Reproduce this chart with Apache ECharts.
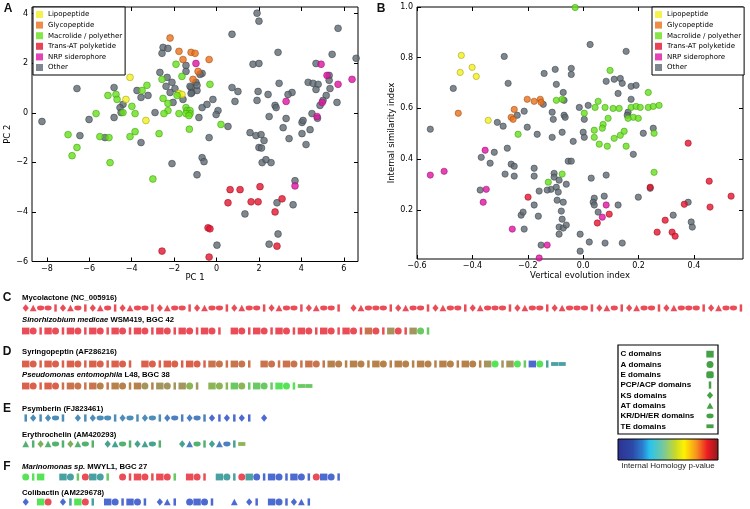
<!DOCTYPE html>
<html><head><meta charset="utf-8">
<script src="https://cdn.jsdelivr.net/npm/echarts@6/dist/echarts.min.js"></script>
<style>html,body{margin:0;padding:0;background:#fff}#c{width:750px;height:509px}</style>
</head><body><div id="c"></div>
<script>
// ---------- DATA ----------
const categories = ['Lipopeptide','Glycopeptide','Macrolide / polyether','Trans-AT polyketide','NRP siderophore','Other'];
const catColors  = ['#f2f01e','#e8701a','#66e01a','#e4142e','#de14a2','#5f6972'];
const catBorders = ['#a09c18','#a04c12','#3e9a10','#9e0c20','#98106e','#3a4046'];

// Panel A: [PC 1, PC 2]
const pcaLipopeptide = [[-4.08,1.43],[-1.77,0.78],[-1.63,0.74],[-4.27,0.54],[-3.33,-0.31]];
const pcaGlycopeptide = [[-2.19,3.02],[-1.77,2.48],[-1.20,2.44],[-1.01,2.40],[-1.58,2.15],[-0.87,1.67],[-1.11,1.35],[-0.35,2.15]];
const pcaMacrolide = [[-1.91,1.96],[-1.63,1.47],[-2.57,1.35],[-3.28,1.11],[-3.51,0.90],[-1.86,0.70],[-5.12,0.70],[-4.74,0.74],[-4.69,0.54],[-2.52,0.58],[-3.99,0.26],[-2.29,0.38],[-1.44,0.21],[-2.29,0.09],[-4.41,0.01],[-5.68,-0.03],[-3.84,-0.03],[-2.48,-0.03],[-1.77,-0.03],[-1.39,0.09],[-1.25,0.09],[-1.25,-0.03],[-1.44,-0.03],[-1.30,-0.11],[-7.0,-0.88],[-5.50,-0.96],[-5.07,-1.0],[-4.08,-0.96],[-3.84,-0.76],[-2.71,-0.84],[-1.28,-0.66],[-6.58,-1.40],[-6.81,-1.73],[-5.02,-2.01],[-3.0,-2.67],[-0.31,1.15],[0.21,-0.47]];
const pcaTransAT = [[-2.57,-5.58],[0.64,-3.10],[1.11,-3.10],[2.05,-2.98],[0.54,-3.63],[1.63,-3.59],[1.96,-3.59],[3.09,-3.47],[2.76,-4.0],[-0.40,-4.64],[-0.31,-4.68],[2.85,-5.38],[-0.35,-5.82]];
const pcaSiderophore = [[-0.97,1.99],[4.93,1.96],[5.21,1.51],[5.73,1.15],[6.39,1.35],[3.28,0.46],[4.98,0.42],[4.74,-0.15],[3.70,-2.95]];
const pcaOther = [[-2.52,2.64],[-2.29,2.60],[-2.57,2.40],[-2.67,1.63],[-2.33,1.43],[-0.97,1.23],[-6.58,0.98],[-4.83,1.02],[-3.75,0.90],[-2.10,1.23],[-2.38,1.07],[-1.96,0.98],[-1.20,1.02],[-2.19,0.82],[-3.56,0.62],[-3.23,0.70],[-1.16,0.82],[-0.92,0.90],[-4.41,0.34],[-4.55,0.21],[-2.05,0.42],[-1.58,0.54],[-4.50,0.01],[-6.01,-0.27],[-4.83,-0.19],[-2.90,0.01],[-8.23,-0.35],[-0.83,-0.19],[-6.44,-0.92],[-5.26,-1.0],[-3.56,-1.20],[-2.10,-2.05],[-0.92,-2.50],[-0.68,-1.81],[-0.59,-1.97],
 [1.91,4.02],[2.0,3.70],[0.73,3.17],[5.73,3.41],[2.90,2.44],[5.45,2.36],[6.58,2.20],[-1.44,1.91],[1.72,1.96],[2.0,1.99],[4.69,1.99],[-1.44,1.67],[-0.68,1.59],[-0.78,1.55],[-1.25,1.07],[-0.92,1.11],[5.31,1.51],[5.31,1.31],[2.95,1.19],[4.32,1.23],[4.55,1.19],[4.79,1.15],[4.69,0.94],[5.35,0.98],[5.17,0.70],[5.02,0.50],[3.56,0.82],[3.37,0.74],[1.96,0.86],[2.43,0.74],[0.73,1.02],[1.01,0.86],[-1.20,0.78],[-0.17,0.54],[0.87,0.46],[1.91,0.50],[5.68,0.42],[4.88,0.30],[-0.68,0.21],[-0.45,0.34],[0.07,0.09],[-0.02,-0.07],[2.76,0.30],[2.81,0.21],[2.48,-0.15],[3.28,-0.23],[4.50,-0.03],[4.76,-0.22],[4.03,-0.39],[4.08,-0.31],[0.54,-0.55],[3.14,-0.60],[4.41,-0.68],[-0.35,-1.0],[1.58,-0.80],[1.86,-0.92],[2.10,-0.88],[3.42,-1.04],[4.03,-0.84],
 [2.24,-1.12],[2.0,-1.40],[2.12,-1.42],[4.22,-1.28],[2.15,-2.01],[2.33,-1.89],[2.57,-2.01],[3.70,-2.74],[2.85,-3.63],[3.61,-3.71],[1.34,-4.08],[2.90,-4.89],[0.02,-5.34],[2.48,-5.30]];
const pcaLabels = [{name:'syringopeptin',value:[-8.18,-0.55]},{name:'erythrochelin',value:[-0.87,1.91]},{name:'colibactin',value:[3.84,-3.02]},{name:'psymberin',value:[2.85,-4.12]}];

// Panel B: [vertical evolution index, internal similarity index]
const simLipopeptide = [[-0.440,0.809],[-0.444,0.742],[-0.401,0.762],[-0.386,0.726],[-0.343,0.553]];
const simGlycopeptide = [[-0.451,0.581],[-0.202,0.636],[-0.177,0.628],[-0.155,0.636],[-0.152,0.624],[-0.249,0.596],[-0.260,0.565],[-0.253,0.557]];
const simMacrolide = [[-0.029,0.998],[-0.097,0.632],[-0.076,0.636],[-0.235,0.498],[0.097,0.750],[0.235,0.663],[0.054,0.628],[0.043,0.604],[0.079,0.604],[0.108,0.600],[0.130,0.600],[0.173,0.604],[0.191,0.608],[0.206,0.604],[0.235,0.604],[0.253,0.608],[0.274,0.612],[0.181,0.565],[0.162,0.561],[0.199,0.561],[0.090,0.561],[0.004,0.581],[0.072,0.537],[0.069,0.522],[0.040,0.514],[0.040,0.486],[0.112,0.482],[0.134,0.494],[0.148,0.510],[0.256,0.502],[0.058,0.459],[0.087,0.451],[0.155,0.451],[0.256,0.348],[-0.076,0.341],[-0.126,0.309]];
const simTransAT = [[0.379,0.463],[0.094,0.183],[0.051,0.148],[0.242,0.289],[0.455,0.313],[0.534,0.254],[0.365,0.222],[0.458,0.211],[0.296,0.159],[0.267,0.112],[0.321,0.112],[0.332,0.096],[-0.199,0.250]];
const simSiderophore = [[0.083,0.219],[0.069,0.171],[-0.354,0.435],[-0.552,0.337],[-0.502,0.352],[-0.350,0.281],[-0.361,0.230],[-0.256,0.124],[-0.130,0.061],[-0.159,0.010]];
const simOther = [[-0.285,0.805],[-0.469,0.679],[-0.271,0.699],[-0.141,0.738],[-0.144,0.616],[-0.238,0.573],[-0.213,0.589],[-0.310,0.545],[-0.289,0.530],[-0.552,0.518],[-0.202,0.526],[-0.166,0.498],
 [-0.101,0.754],[-0.043,0.758],[-0.043,0.734],[-0.097,0.695],[-0.072,0.663],[-0.069,0.632],[-0.112,0.585],[-0.069,0.573],[-0.065,0.565],[-0.108,0.557],[-0.112,0.486],[-0.076,0.506],
 [0.025,0.852],[0.155,0.825],[0.083,0.707],[0.112,0.715],[0.134,0.718],[0.141,0.699],[0.126,0.659],[0.173,0.687],[0.191,0.691],[0.173,0.636],[-0.014,0.604],[0.018,0.612],[0.004,0.557],[0.217,0.502],[0.253,0.522],[0.0,0.506],[0.004,0.486],[0.162,0.585],[0.159,0.573],
 [-0.036,0.470],[0.181,0.419],[-0.054,0.392],[-0.043,0.392],[0.029,0.325],[0.083,0.337],[0.076,0.254],[0.040,0.246],[0.036,0.230],[0.040,0.219],[0.054,0.191],[0.126,0.219],[0.199,0.250],[0.242,0.285],[0.379,0.230],[0.325,0.179],[0.390,0.152],[0.394,0.132],[-0.011,0.104],[0.022,0.073],[0.079,0.069],[0.141,0.069],[-0.011,0.037],
 [-0.105,0.344],[-0.105,0.329],[-0.087,0.317],[-0.061,0.301],[-0.116,0.281],[-0.097,0.289],[-0.090,0.270],[-0.094,0.238],[-0.072,0.230],[-0.079,0.195],[-0.076,0.163],[-0.087,0.132],[-0.072,0.128],[-0.061,0.140],[-0.087,0.104],
 [-0.368,0.407],[-0.321,0.427],[-0.274,0.443],[-0.336,0.384],[-0.260,0.380],[-0.249,0.372],[-0.282,0.341],[-0.249,0.333],[-0.177,0.364],[-0.177,0.333],[-0.372,0.278],[-0.159,0.274],[-0.130,0.278],[-0.177,0.219],[-0.224,0.179],[-0.217,0.191],[-0.162,0.175],[-0.213,0.124],[-0.152,0.061]];
const simLabels = [{name:'mycolactone',value:[-0.022,0.978]},{name:'syringopeptin',value:[0.029,0.864]},{name:'enduracidin',value:[-0.433,0.821]},{name:'tautomycetin',value:[0.206,0.703]},{name:'thuggacin',value:[-0.094,0.656]},{name:'erythrochelin',value:[-0.552,0.313]},{name:'colibactin',value:[0.072,0.156]},{name:'psymberin',value:[0.343,0.081]}];

const pcaTicksX = [-8,-6,-4,-2,0,2,4,6];
const pcaTicksY = [-6,-4,-2,0,2,4];
const simTicksX = [-0.6,-0.4,-0.2,0.0,0.2,0.4];
const simTicksY = [0.2,0.4,0.6,0.8,1.0];

// Domain architectures (C: C domain, A: A domain, E: E domain, P: PCP/ACP, D: KS, T: AT, K: KR/DH/ER, X: TE, space: gap)
const rowTitles = ['Mycolactone (NC_005916)','{i|Sinorhizobium medicae} WSM419, BGC 42','Syringopeptin (AF286216)','{i|Pseudomonas entomophila} L48, BGC 38','Psymberin (FJ823461)','Erythrochelin (AM420293)','{i|Marinomonas sp.} MWYL1, BGC 27','Colibactin (AM229678)'];
const rowGlyphs = [
 'DTKKPDTKPDTKPDTKKPDTKKPDTKKPDTKKPDTKKPDTKKP DTKKKPDTKKPDTKKPDTKKKPDTKKPDTKKKPDTKPDTKKPDTKKKPDTKKP',
 'CAPCAPCAPCAPCAPCAPCAPCAPCAP CAPCAPCAPCAPCAPCAPCAPCAPCAP',
 'CAPCAPCAPCAPCAP CAPCAPCAPCAPCAP CAPCAPCAPCAPCAPCAPCAPCAPCAPCAPCAPCAPCAPXX',
 'CAPCAPCAPCAPCAPCAPCAPCAP CAPCAPCAPCAPXX',
 'PDPDKP DPDKKPDKPDKPDKPDKPDPDPDP D',
 'TPDTKPDTKP DTKPDTKP  DTKPDTKPX',
 'APC  CAPACAP APCAPCAP CAP CAPACAPCAPCAPACAP',
 'D CA DPCAP CAPCAP DTP ACAP  T DP CAPDTP'
];
const rowColors = [
 'rrrrrrrrrrrrrrrrrrrrrrrrrrrrrrrrrrrrrrrrrrr rrrrrrrrrrrrrrrrrrrrrrrrrrrrrrrrrrrrrrrrrrrrrrrrrrrrr',
 'rrrrrrrrrrrrrrrrrrrrrrrrrrr rrrrrrrrrrrrrrrrrrnrrvrrvg',
 'ooooooooooooooo ooooooooonnnnnn nnnnnnnnnbbbbbbbbbbbbbbbbbbbbbvGvvGgBGttt',
 'ooooonnnnnbnbbbbvbvvvvlv lllglggggGGGgg',
 'cccccc ccccccccccccuuuuuuBBBBBB B',
 'kkhkkkhkkk qqkkqqqk  qukkquuql',
 'GGG  ttgrttg rrrrrrrg rrr tttrtBBBBBBBBrBBB',
 'B Gr BtGrt BBBBBB BBB BBBB  B BB BBBBBB'
];
const palette = {r:'#e5202e',o:'#d13b1f',n:'#bb5120',b:'#a5621e',v:'#8c7a35',l:'#6fa22c',g:'#45bb3c',G:'#2ddc2d',k:'#2c9e4c',h:'#5e9b34',q:'#168c74',t:'#1d8a8a',c:'#1f72a8',u:'#1f60b0',B:'#1f45c4'};
const domainNames = ['C domains','A domains','E domains','PCP/ACP domains','KS domains','AT domains','KR/DH/ER domains','TE domains'];
const domainCodes = ['C','A','E','P','D','T','K','X'];
const homologyStops = [[0,'#2e3192'],[0.15,'#2b4aa8'],[0.25,'#2b7fd0'],[0.32,'#29c3ef'],[0.45,'#74c8a0'],[0.57,'#c6d82e'],[0.66,'#fff200'],[0.78,'#f7941d'],[0.89,'#ec1c24'],[1,'#8e1a1c']];

// ---------- CHART ----------
const ELLIPSE = 'path://M0,50A50,50,0,1,1,100,50A50,50,0,1,1,0,50Z';
const glyph = {C:['rect',[7.4,6.8]],A:['circle',[7,7]],E:['roundRect',[7.4,6.8]],P:['rect',[2.5,7.2]],D:['diamond',[6.2,7.4]],T:['triangle',[6.8,6.4]],K:[ELLIPSE,[7.2,4.8]],X:['rect',[7.2,3.8]]};
const DV = 'DejaVu Sans', LS = 'Liberation Sans';
const fmt = d => v => (v < -1e-9 ? '\u2212' : '') + Math.abs(v).toFixed(d);

function axesPair(kind, grid, min, max, ticks, dec, name, nameGap) {
  const main = {type:'value', gridIndex:grid, min, max, position: kind==='x'?'bottom':'left',
    axisLine:{show:false, onZero:false}, splitLine:{show:false},
    axisTick:{show:true, inside:true, length:4, customValues:ticks, lineStyle:{color:'#000',width:1}},
    axisLabel:{customValues:ticks, formatter:fmt(dec), fontSize:8, fontFamily:DV, color:'#000', margin: kind==='x'?3:4},
    name, nameLocation:'middle', nameGap, nameTextStyle:{fontSize:8.5, fontFamily:DV, color:'#000'}};
  const mirror = {type:'value', gridIndex:grid, min, max, position: kind==='x'?'top':'right',
    axisLine:{show:false, onZero:false}, splitLine:{show:false}, axisLabel:{show:false},
    axisTick:{show:true, inside:true, length:4, customValues:ticks, lineStyle:{color:'#000',width:1}}};
  return [main, mirror];
}

const grids = [
  {left:32, top:7, width:326, height:254.5, show:true, borderColor:'#000', borderWidth:1},
  {left:417, top:7, width:326, height:252, show:true, borderColor:'#000', borderWidth:1}
];
const xAxes = [...axesPair('x',0,-8.7,6.67,pcaTicksX,0,'PC 1',12), ...axesPair('x',1,-0.6,0.577,simTicksX,1,'Vertical evolution index',10)];
const yAxes = [...axesPair('y',0,-6,4.27,pcaTicksY,0,'PC 2',13), ...axesPair('y',1,0.006,1.0,simTicksY,1,'Internal similarity index',19)];
const series = [];

const pcaSets = [pcaLipopeptide,pcaGlycopeptide,pcaMacrolide,pcaTransAT,pcaSiderophore,pcaOther];
const simSets = [simLipopeptide,simGlycopeptide,simMacrolide,simTransAT,simSiderophore,simOther];
const drawOrder = [5,1,0,2,4,3];
drawOrder.forEach(ci => {
  const style = {color:catColors[ci], borderColor:catBorders[ci], borderWidth:0.7};
  series.push({type:'scatter', name:categories[ci], xAxisIndex:0, yAxisIndex:0, data:pcaSets[ci], symbolSize:6.8, itemStyle:style, silent:true});
  series.push({type:'scatter', name:categories[ci], xAxisIndex:2, yAxisIndex:2, data:simSets[ci], symbolSize:6.3, itemStyle:style, silent:true});
});
const labelStyle = {show:true, position:'right', distance:0, formatter:'{b}', fontStyle:'italic', fontSize:7.2, fontFamily:DV, color:'#333'};
series.push({type:'scatter', xAxisIndex:0, yAxisIndex:0, data:pcaLabels, symbolSize:1, itemStyle:{opacity:0}, label:labelStyle, silent:true, z:5});
series.push({type:'scatter', xAxisIndex:2, yAxisIndex:2, data:simLabels, symbolSize:1, itemStyle:{opacity:0}, label:labelStyle, silent:true, z:5});

// domain rows
const rowY = [308,331,364,386,418,444,477,502];
const SLOTS = 97, SLOT_W = 7.45;
rowGlyphs.forEach((g, r) => {
  const gi = grids.length;
  grids.push({left:22, top:rowY[r]-6, width:SLOTS*SLOT_W, height:12});
  xAxes.push({type:'value', gridIndex:gi, min:0, max:SLOTS, show:false});
  yAxes.push({type:'value', gridIndex:gi, min:-1, max:1, show:false});
  const cols = rowColors[r];
  const data = [];
  for (let i = 0; i < g.length; i++) {
    const ch = g[i];
    if (ch === ' ' || !glyph[ch]) continue;
    const cc = palette[cols[i]] || palette[cols.trim().slice(-1)] || '#e5202e';
    data.push({value:[i+0.5, 0], symbol:glyph[ch][0], symbolSize:glyph[ch][1], itemStyle:{color:cc}});
  }
  series.push({type:'scatter', xAxisIndex:xAxes.length-1, yAxisIndex:yAxes.length-1, data, silent:true});
});

// domain legend symbols
{
  const gi = grids.length;
  grids.push({left:706, top:349, width:8, height:82.4});
  xAxes.push({type:'value', gridIndex:gi, min:-1, max:1, show:false});
  yAxes.push({type:'category', gridIndex:gi, data:domainNames, inverse:true, show:false});
  series.push({type:'scatter', xAxisIndex:xAxes.length-1, yAxisIndex:yAxes.length-1, silent:true,
    data: domainNames.map((n,i) => ({value:[0,n], symbol:glyph[domainCodes[i]][0], symbolSize:glyph[domainCodes[i]][1], itemStyle:{color:'#178a17'}}))});
}

const graphics = [];
const letter = (t,x,y) => graphics.push({type:'text', style:{text:t, x, y, fontSize:12, fontWeight:'bold', fontFamily:LS, fill:'#111', align:'center', verticalAlign:'middle'}});
const titleY = [298,320,352,375,409,435,467,493];
letter('A',8,9); letter('B',381,9); letter('C',7,titleY[0]); letter('D',7,titleY[2]); letter('E',7,titleY[4]); letter('F',7,titleY[6]);
rowTitles.forEach((t,i) => graphics.push({type:'text', style:{text:t, x:22, y:titleY[i], fontSize:7.7, fontWeight:'bold', fontFamily:LS, fill:'#000', verticalAlign:'middle',
  rich:{i:{fontStyle:'italic', fontWeight:'bold', fontSize:7.7, fontFamily:LS, fill:'#000'}}}}));
graphics.push({type:'rect', shape:{x:618, y:345, width:100, height:89}, style:{fill:'#fff', stroke:'#000', lineWidth:1.2}, z:-1});
domainNames.forEach((n,i) => graphics.push({type:'text', style:{text:n, x:620.5, y:354.2+i*10.3, fontSize:8, fontWeight:'bold', fontFamily:LS, fill:'#000', verticalAlign:'middle'}}));
graphics.push({type:'rect', shape:{x:618, y:439, width:100, height:21},
  style:{fill:new echarts.graphic.LinearGradient(0,0,1,0, homologyStops.map(s=>({offset:s[0], color:s[1]}))), stroke:'#000', lineWidth:1}});
graphics.push({type:'text', style:{text:'Internal Homology p-value', x:668, y:466, fontSize:8, fontFamily:LS, fill:'#222', align:'center', verticalAlign:'middle'}});

const legendBase = {orient:'vertical', data:categories, icon:'rect', itemWidth:7, itemHeight:7, itemGap:3.6, selectedMode:false,
  textStyle:{fontSize:7, fontFamily:DV, color:'#000'}, padding:[4,3,4,3], borderColor:'#000', borderWidth:1, backgroundColor:'#fff',
  itemStyle:{borderWidth:0}, z:10};

const chart = echarts.init(document.getElementById('c'));
chart.setOption({
  animation:false, backgroundColor:'#fff',
  grid:grids, xAxis:xAxes, yAxis:yAxes, series,
  legend:[Object.assign({left:33, top:7}, legendBase), Object.assign({left:652, top:7}, legendBase)],
  graphic:graphics
});
</script></body></html>
